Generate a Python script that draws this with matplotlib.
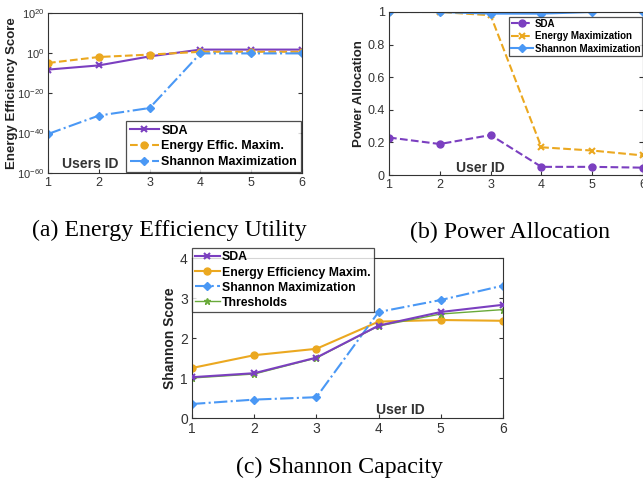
import matplotlib
matplotlib.use("Agg")
import matplotlib.pyplot as plt
import numpy as np

plt.rcParams['font.family'] = ['Liberation Sans', 'DejaVu Sans']

users = [1, 2, 3, 4, 5, 6]

# (a) Energy efficiency (log10 values)
ee_sda_log = [-8.3, -6.2, -1.7, 1.7, 1.7, 1.7]
ee_eem_log = [-5.0, -2.0, -0.8, 0.6, 0.6, 0.6]
ee_sha_log = [-40.5, -31.3, -27.5, -0.2, -0.2, -0.2]

# (b) Power allocation
pa_sda = [0.23, 0.19, 0.245, 0.05, 0.05, 0.045]
pa_em = [1.0, 1.0, 0.98, 0.17, 0.15, 0.12]
pa_sha = [1.0, 1.0, 0.99, 0.99, 1.0, 1.0]

# (c) Shannon score
sc_sda = [1.02, 1.12, 1.51, 2.31, 2.65, 2.83]
sc_eem = [1.25, 1.57, 1.73, 2.41, 2.45, 2.43]
sc_sha = [0.35, 0.46, 0.52, 2.65, 2.95, 3.31]
sc_thr = [1.0, 1.1, 1.5, 2.3, 2.6, 2.71]

PURPLE = "#7B3FC0"
ORANGE = "#EBA820"
BLUE = "#4A98F5"
GREEN = "#6AAA3A"

W, H = 643, 484
fig = plt.figure(figsize=(W / 100, H / 100), dpi=100)


def px_axes(l, t, r, b):
    return fig.add_axes([l / W, 1 - b / H, (r - l) / W, (b - t) / H])


def style(ax, ls=9, pad=3):
    ax.tick_params(direction='in', top=False, right=True, labelsize=ls, length=3,
                   colors='#333333', labelcolor='#333333', pad=pad)
    for s in ax.spines.values():
        s.set_color('#333333')
        s.set_linewidth(0.8)
    ax.set_xlim(1, 6)
    ax.set_xticks(users)


# ---------- (a) ----------
axa = px_axes(48, 13, 302, 173)
ee_sda = [10.0 ** v for v in ee_sda_log]
ee_eem = [10.0 ** v for v in ee_eem_log]
ee_sha = [10.0 ** v for v in ee_sha_log]
axa.plot(users, ee_sda, '-', color=PURPLE, marker='x', ms=5, mew=1.5, lw=1.5, label='SDA')
axa.plot(users, ee_eem, '--', color=ORANGE, marker='o', ms=5, lw=1.5, label='Energy Effic. Maxim.')
axa.plot(users, ee_sha, '-.', color=BLUE, marker='D', ms=4.5, lw=1.5, label='Shannon Maximization')
axa.set_yscale('log')
axa.set_ylim(1e-60, 1e20)
axa.set_yticks([1e-60, 1e-40, 1e-20, 1e0, 1e20])
axa.yaxis.set_minor_locator(matplotlib.ticker.NullLocator())
style(axa, ls=8, pad=2.5)
axa.tick_params(axis='x', labelsize=9, pad=3)
axa.set_ylabel('Energy Efficiency Score', fontsize=9.5, fontweight='bold', color='#222222')
axa.yaxis.set_label_coords((18 - 48) / 254, 0.5)
fig.text(90 / W, 1 - 164 / H, 'Users ID', fontsize=10, fontweight='bold', color='#333333',
         ha='center', va='center')
leg = axa.legend(loc='lower right', prop={'weight': 'bold', 'size': 9},
                 frameon=True, fancybox=False, edgecolor='#222222', borderpad=0.3,
                 labelspacing=0.3, handlelength=2.3, handletextpad=0.2, borderaxespad=0.1)
leg.get_frame().set_linewidth(0.9)

# ---------- (b) ----------
axb = px_axes(389, 12, 643, 175)
axb.plot(users, pa_sda, '--', color=PURPLE, marker='o', ms=5, lw=1.5, label='SDA')
axb.plot(users, pa_em, '--', color=ORANGE, marker='x', ms=5, mew=1.5, lw=1.5, label='Energy Maximization')
axb.plot(users, pa_sha, '-', color=BLUE, marker='D', ms=4.5, lw=1.5, label='Shannon Maximization')
axb.set_ylim(0, 1)
axb.set_yticks([0, 0.2, 0.4, 0.6, 0.8, 1])
axb.set_yticklabels(['0', '0.2', '0.4', '0.6', '0.8', '1'])
style(axb)
axb.set_ylabel('Power Allocation', fontsize=9.5, fontweight='bold', color='#222222', labelpad=2)
fig.text(480 / W, 1 - 168 / H, 'User ID', fontsize=10, fontweight='bold', color='#333333',
         ha='center', va='center')
leg = axb.legend(loc='upper right', prop={'weight': 'bold', 'size': 7},
                 frameon=True, fancybox=False, edgecolor='#222222', borderpad=0.2,
                 labelspacing=0.25, handlelength=2.3, handletextpad=0.2,
                 bbox_to_anchor=(0.998, 0.97), borderaxespad=0.0)
leg.get_frame().set_linewidth(0.9)

# ---------- (c) ----------
axc = px_axes(192, 258, 503, 418)
axc.plot(users, sc_sda, '-', color=PURPLE, marker='x', ms=5, mew=1.5, lw=1.5, label='SDA', zorder=3)
axc.plot(users, sc_eem, '-', color=ORANGE, marker='o', ms=5, lw=1.5, label='Energy Efficiency Maxim.')
axc.plot(users, sc_sha, '-.', color=BLUE, marker='D', ms=4.5, lw=1.5, label='Shannon Maximization')
axc.plot(users, sc_thr, '-', color=GREEN, marker='*', ms=5, lw=1.0, label='Thresholds', zorder=2)
axc.set_ylim(0, 4)
axc.set_yticks([0, 1, 2, 3, 4])
style(axc, ls=10)
axc.set_ylabel('Shannon Score', fontsize=10, fontweight='bold', color='#222222', labelpad=2)
fig.text(400 / W, 1 - 410 / H, 'User ID', fontsize=10, fontweight='bold', color='#333333',
         ha='center', va='center')
leg = axc.legend(loc='upper left', prop={'weight': 'bold', 'size': 8.8},
                 frameon=True, fancybox=False, edgecolor='#222222', borderpad=0.25,
                 labelspacing=0.25, handlelength=2.0, handletextpad=0.2,
                 bbox_to_anchor=(0.0, 1.06), borderaxespad=0.0)
leg.get_frame().set_linewidth(0.9)

# ---------- captions ----------
cap = dict(fontsize=17.2, family=['Liberation Serif', 'DejaVu Serif'], color='black',
           ha='center', va='center')
fig.text(169 / W, 1 - 230 / H, '(a) Energy Efficiency Utility', **cap)
fig.text(510 / W, 1 - 232 / H, '(b) Power Allocation', **cap)
fig.text(339 / W, 1 - 467 / H, '(c) Shannon Capacity', **cap)

fig.savefig('out.png', dpi=100)
